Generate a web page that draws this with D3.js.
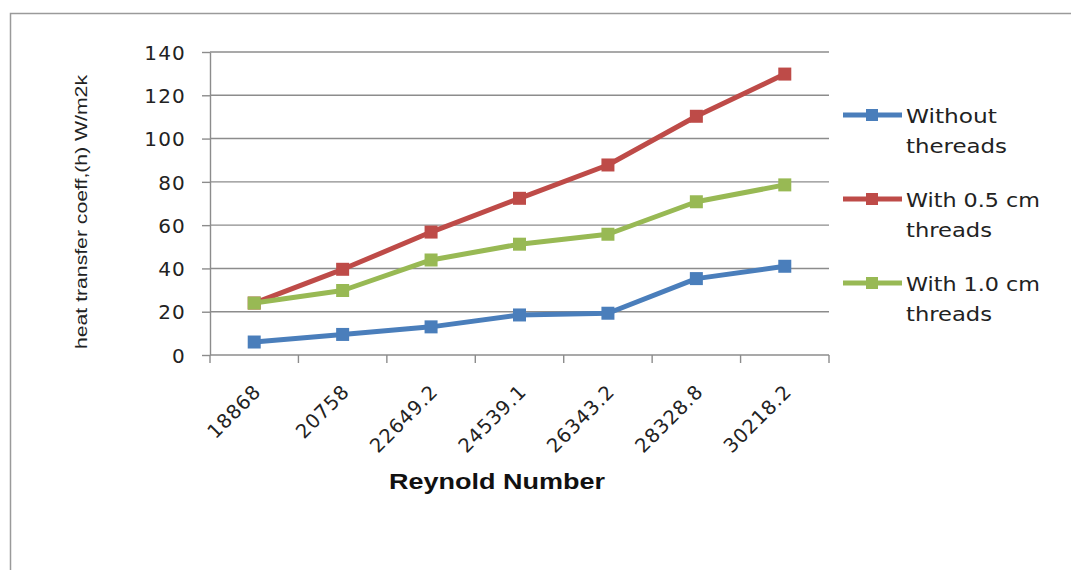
<!DOCTYPE html>
<html>
<head>
<meta charset="utf-8">
<script src="https://cdn.jsdelivr.net/npm/d3@7"></script>
<style>
  html, body { margin: 0; padding: 0; background: #fff; }
  svg { display: block; }
</style>
</head>
<body>
<svg id="chart" width="1071" height="570"></svg>
<script>
// Reynold number categories and heat transfer coefficient series
const categories = ["18868", "20758", "22649.2", "24539.1", "26343.2", "28328.8", "30218.2"];
const withoutThreads = [6, 9.5, 13, 18.5, 19.3, 35.3, 41];
const withHalfCm = [24, 39.6, 56.8, 72.4, 87.8, 110.3, 129.8];
const withOneCm = [24, 29.8, 43.9, 51.2, 55.8, 70.8, 78.6];
const yTicks = [0, 20, 40, 60, 80, 100, 120, 140];

const seriesNames = [["Without", "thereads"], ["With 0.5 cm", "threads"], ["With 1.0 cm", "threads"]];
const seriesColors = ["#4a7ebb", "#be4b48", "#98b954"];
const seriesValues = [withoutThreads, withHalfCm, withOneCm];

const svg = d3.select("#chart");

// outer chart frame (left and top edges visible)
svg.append("path")
  .attr("d", "M10.5,570 L10.5,13.5 L1071,13.5")
  .attr("fill", "none")
  .attr("stroke", "#9a9a9a")
  .attr("stroke-width", 1.5);

const plot = { left: 210, right: 829, top: 52, bottom: 355 };

const x = d3.scaleBand().domain(categories).range([plot.left, plot.right]);
const y = d3.scaleLinear().domain([0, 140]).range([plot.bottom, plot.top]);

// horizontal gridlines
svg.append("g")
  .selectAll("line")
  .data(yTicks.filter(t => t > 0))
  .join("line")
  .attr("x1", plot.left).attr("x2", plot.right)
  .attr("y1", d => y(d)).attr("y2", d => y(d))
  .attr("stroke", "#8c8c8c")
  .attr("stroke-width", 1.4);

// y axis
const yAxis = svg.append("g")
  .attr("transform", `translate(${plot.left},0)`)
  .call(d3.axisLeft(y).tickValues(yTicks).tickSize(8).tickPadding(16).tickSizeOuter(0));
yAxis.select(".domain").attr("stroke", "#8c8c8c").attr("stroke-width", 1.4);
yAxis.selectAll(".tick line").attr("stroke", "#8c8c8c").attr("stroke-width", 1.4);
yAxis.selectAll(".tick text")
  .attr("font-family", "DejaVu Sans, Verdana, sans-serif")
  .attr("font-size", 20)
  .attr("letter-spacing", 1.2)
  .attr("fill", "#222")
  .attr("dy", "0.36em");

// x axis with ticks at category boundaries
const xAxisG = svg.append("g");
xAxisG.append("line")
  .attr("x1", plot.left).attr("x2", plot.right)
  .attr("y1", plot.bottom).attr("y2", plot.bottom)
  .attr("stroke", "#8c8c8c").attr("stroke-width", 1.4);
const boundaries = categories.map(c => x(c)).concat([x(categories[categories.length - 1]) + x.bandwidth()]);
xAxisG.selectAll("line.tk")
  .data(boundaries)
  .join("line")
  .attr("class", "tk")
  .attr("x1", d => d).attr("x2", d => d)
  .attr("y1", plot.bottom).attr("y2", plot.bottom + 8)
  .attr("stroke", "#8c8c8c").attr("stroke-width", 1.4);

xAxisG.selectAll("text")
  .data(categories)
  .join("text")
  .attr("transform", d => `translate(${x(d) + x.bandwidth() / 2 + 8},${plot.bottom + 38}) rotate(-45)`)
  .attr("text-anchor", "end")
  .attr("font-family", "DejaVu Sans, Verdana, sans-serif")
  .attr("font-size", 19.5)
  .attr("letter-spacing", 0.8)
  .attr("fill", "#222")
  .text(d => d);

// axis titles
svg.append("text")
  .attr("x", 497).attr("y", 489)
  .attr("text-anchor", "middle")
  .attr("font-family", "Liberation Sans, Arial, sans-serif")
  .attr("font-weight", "bold")
  .attr("font-size", 22)
  .attr("textLength", 216)
  .attr("lengthAdjust", "spacingAndGlyphs")
  .attr("fill", "#111")
  .text("Reynold Number");

svg.append("text")
  .attr("transform", "translate(87,212) rotate(-90)")
  .attr("text-anchor", "middle")
  .attr("font-family", "Liberation Sans, Arial, sans-serif")
  .attr("font-size", 16)
  .attr("textLength", 274)
  .attr("lengthAdjust", "spacingAndGlyphs")
  .attr("fill", "#222")
  .text("heat transfer coeff,(h) W/m2k");

// series lines and square markers
const line = d3.line()
  .x((d, i) => x(categories[i]) + x.bandwidth() / 2)
  .y(d => y(d));

const markerSize = 13;
seriesValues.forEach((vals, s) => {
  const g = svg.append("g");
  g.append("path")
    .datum(vals)
    .attr("d", line)
    .attr("fill", "none")
    .attr("stroke", seriesColors[s])
    .attr("stroke-width", 5)
    .attr("stroke-linejoin", "round");
  g.selectAll("rect")
    .data(vals)
    .join("rect")
    .attr("x", (d, i) => x(categories[i]) + x.bandwidth() / 2 - markerSize / 2)
    .attr("y", d => y(d) - markerSize / 2)
    .attr("width", markerSize).attr("height", markerSize)
    .attr("fill", seriesColors[s]);
});

// legend
const legendRows = [115, 199, 283];
const legendWidths = [[91, 101], [134, 86], [134, 86]];
seriesNames.forEach((names, s) => {
  const ly = legendRows[s];
  const g = svg.append("g");
  g.append("line")
    .attr("x1", 843).attr("x2", 902)
    .attr("y1", ly).attr("y2", ly)
    .attr("stroke", seriesColors[s]).attr("stroke-width", 5);
  g.append("rect")
    .attr("x", 872 - 6).attr("y", ly - 6)
    .attr("width", 12).attr("height", 12)
    .attr("fill", seriesColors[s]);
  names.forEach((t, k) => {
    g.append("text")
      .attr("x", 906).attr("y", ly + 8 + k * 30)
      .attr("font-family", "DejaVu Sans, Verdana, sans-serif")
      .attr("font-size", 19)
      .attr("textLength", legendWidths[s][k])
      .attr("lengthAdjust", "spacingAndGlyphs")
      .attr("fill", "#222")
      .text(t);
  });
});
</script>
</body>
</html>
